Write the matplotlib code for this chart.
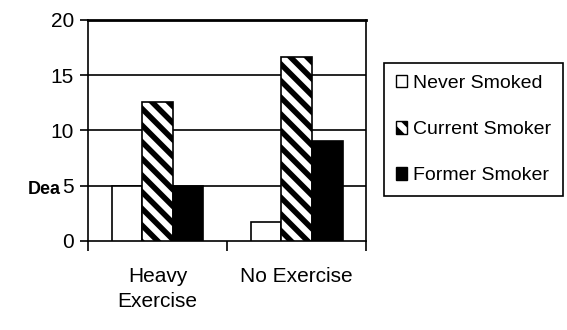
import numpy as np
import matplotlib.pyplot as plt
from matplotlib.patches import Patch

plt.rcParams['font.family'] = ['Liberation Sans', 'DejaVu Sans']
plt.rcParams['hatch.linewidth'] = 4.0

categories = ["Heavy\nExercise", "No Exercise"]
series = ["Never Smoked", "Current Smoker", "Former Smoker"]
never = [5.0, 1.7]
current = [12.6, 16.6]
former = [5.0, 9.0]
yticks = [0, 5, 10, 15, 20]

fig = plt.figure(figsize=(5.67, 3.30), dpi=100)
ax = fig.add_axes([0.155, 0.270, 0.491, 0.670])

x = np.arange(len(categories)) + 0.5
w = 0.22
styles = [dict(facecolor="white", hatch=None),
          dict(facecolor="white", hatch="\\\\"),
          dict(facecolor="black", hatch=None)]
for i, vals in enumerate([never, current, former]):
    ax.bar(x + (i - 1) * w, vals, w, edgecolor="black", linewidth=1.2,
           zorder=3, **styles[i])

ax.set_xlim(0, 2)
ax.set_ylim(0, 20)
ax.set_yticks(yticks)
for v in yticks[1:]:
    ax.axhline(v, color="black", lw=1.2, zorder=1)

for s in ax.spines.values():
    s.set_linewidth(1.2)
ax.spines["top"].set_linewidth(2)

ax.set_xticks(x)
ax.set_xticklabels(categories, fontsize=15, linespacing=1.4)
ax.set_xticks([0, 1, 2], minor=True)
ax.tick_params(axis="x", which="major", length=0, pad=19)
ax.tick_params(axis="x", which="minor", length=7, width=1.2, direction="out")
ax.tick_params(axis="y", labelsize=15, length=6, width=1.2, pad=4)

fig.text(0.108, 0.425, "Dea", fontsize=13, fontweight="bold",
         ha="right", va="center")

handles = [Patch(facecolor="white", edgecolor="black"),
           Patch(facecolor="white", edgecolor="black", hatch="\\\\"),
           Patch(facecolor="black", edgecolor="black")]
leg = fig.legend(handles, series, loc="center", bbox_to_anchor=(0.835, 0.607),
                 fontsize=14, frameon=True, fancybox=False, edgecolor="black",
                 framealpha=1, handlelength=0.6, handleheight=0.6,
                 handletextpad=0.3, labelspacing=1.5, borderpad=0.6,
                 borderaxespad=0)
leg.get_frame().set_linewidth(1.2)

fig.savefig("out.png", dpi=100)
